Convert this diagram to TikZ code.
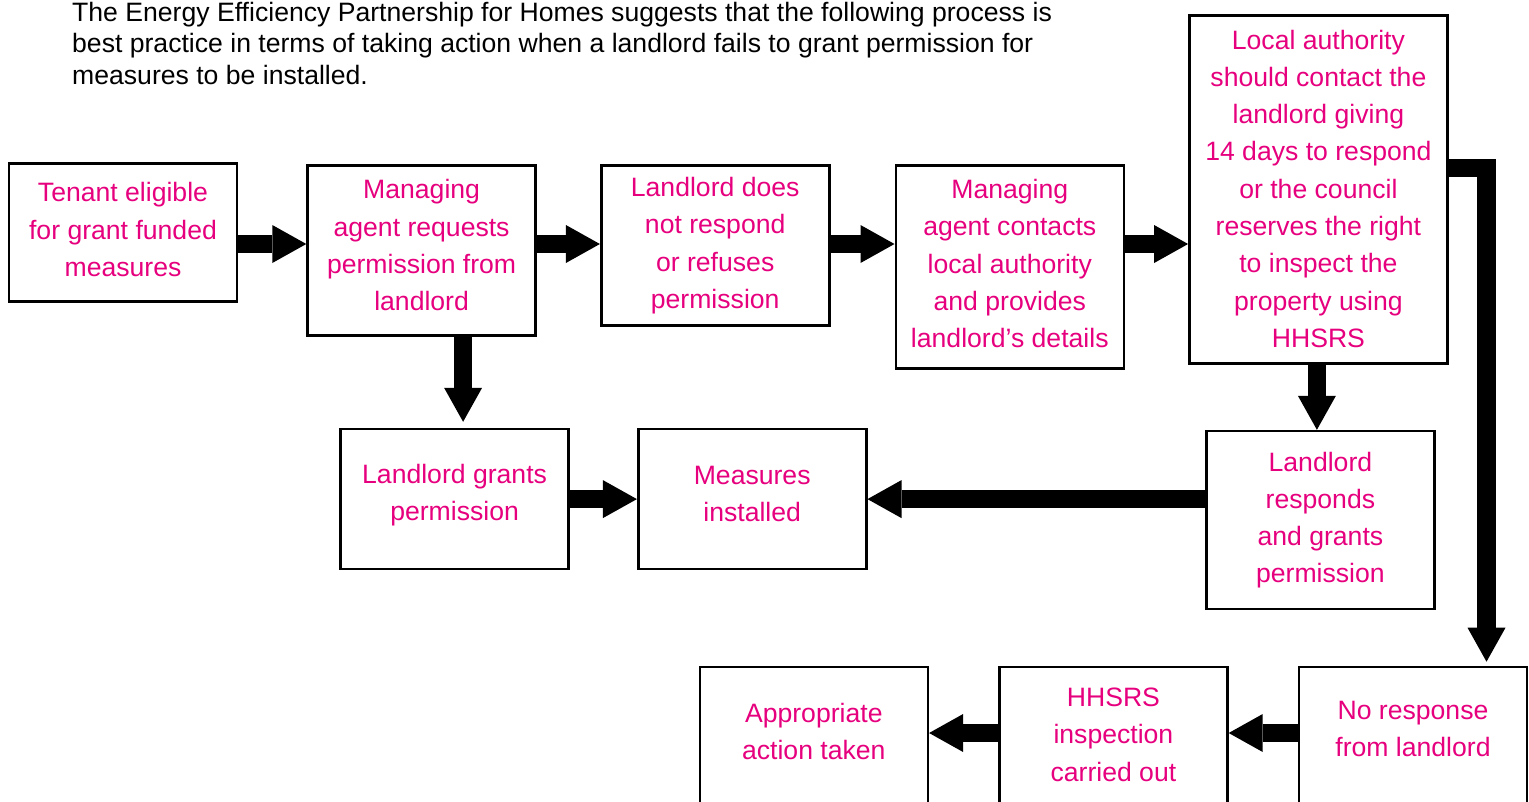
\documentclass[tikz,border=0pt]{standalone}
\usepackage{fontspec}
\setmainfont{Liberation Sans}
\usetikzlibrary{arrows.meta,positioning,calc}
\definecolor{agentpink}{HTML}{E6007E}
\def\blkpad{0pt}
\tikzset{
  blk/.style={draw, rectangle, line width=2.6pt, minimum width=228pt, inner sep=2pt, align=center, text=agentpink, font=\fontsize{26.6}{37.3}\selectfont,
    execute at begin node={\rule{0pt}{30pt}}, execute at end node={\rule[-\blkpad]{0pt}{0pt}}},
  pad/.code={\def\blkpad{#1}},
  arr/.style={-{Triangle[length=34pt, width=38pt, line width=0pt]}, line width=18.5pt},
  intro/.style={align=left, anchor=north west, inner sep=0pt, font=\fontsize{26.6}{31.6}\selectfont},
}
\begin{document}
\begin{tikzpicture}[x=1pt, y=-1pt]
\useasboundingbox (0,0) rectangle (1529,801);

\node[intro] (txt) at (72,1.6) {The Energy Efficiency Partnership for Homes suggests that the following process is\\best practice in terms of taking action when a landlord fails to grant permission for\\measures to be installed.};

\node[blk, pad=5.8pt, minimum height=138pt] (tenant) at (123,232.5) {Tenant eligible\\for grant funded\\measures};
\node[blk, pad=10.8pt, minimum height=170pt, right=68pt of tenant.north east, anchor=north west, yshift=-2pt] (req) {Managing\\agent requests\\permission from\\landlord};
\node[blk, pad=4.8pt, minimum height=160pt, right=63pt of req.north east, anchor=north west] (nores) {Landlord does\\not respond\\or refuses\\permission};
\node[blk, pad=6.8pt, minimum height=203pt, right=64pt of nores.north east, anchor=north west] (contact) {Managing\\agent contacts\\local authority\\and provides\\landlord’s details};
\node[blk, pad=1.8pt, minimum width=258pt, minimum height=348pt, right=63pt of contact.north east, anchor=north west, yshift=150pt] (la) {Local authority\\should contact the\\landlord giving\\14 days to respond\\or the council\\reserves the right\\to inspect the\\property using\\HHSRS};

\node[blk, pad=12.8pt, minimum height=140pt, below right=91pt and 33pt of req.south west] (grants) {Landlord grants\\permission};
\node[blk, pad=10.8pt, minimum height=140pt, right=67pt of grants] (inst) {Measures\\installed};
\node[blk, pad=4.8pt, minimum height=178pt, below=65pt of la, xshift=2pt] (resp) {Landlord\\responds\\and grants\\permission};

\node[blk, pad=15.8pt, minimum height=140pt] (noresp) at (1413,737) {No response\\from landlord};
\node[blk, pad=4.8pt, minimum height=140pt, left=69pt of noresp] (hhsrs) {HHSRS\\inspection\\carried out};
\node[blk, pad=11.8pt, minimum height=140pt, left=69pt of hhsrs] (action) {Appropriate\\action taken};

\coordinate (toprow) at (0,244);
\coordinate (botrow) at (0,733);
\coordinate (down) at ([xshift=8.5pt]grants.north);
\coordinate (bend) at (1486.5,168);

\draw[arr] (tenant.east |- toprow) -- (req.west |- toprow);
\draw[arr] (req.east |- toprow) -- (nores.west |- toprow);
\draw[arr] (nores.east |- toprow) -- (contact.west |- toprow);
\draw[arr] (contact.east |- toprow) -- (la.west |- toprow);
\draw[arr, shorten >=6pt] (down |- req.south) -- (down);
\draw[arr] (grants) -- (inst);
\draw[arr] (resp.west |- inst.east) -- (inst.east);
\draw[arr] ([xshift=-1.5pt]la.south) -- ([xshift=-1.5pt]la.south |- resp.north);
\draw[arr, shorten >=4pt] (la.east |- bend) -| (bend |- noresp.north);
\draw[arr] (noresp.west |- botrow) -- (hhsrs.east |- botrow);
\draw[arr] (hhsrs.west |- botrow) -- (action.east |- botrow);

\end{tikzpicture}
\end{document}
